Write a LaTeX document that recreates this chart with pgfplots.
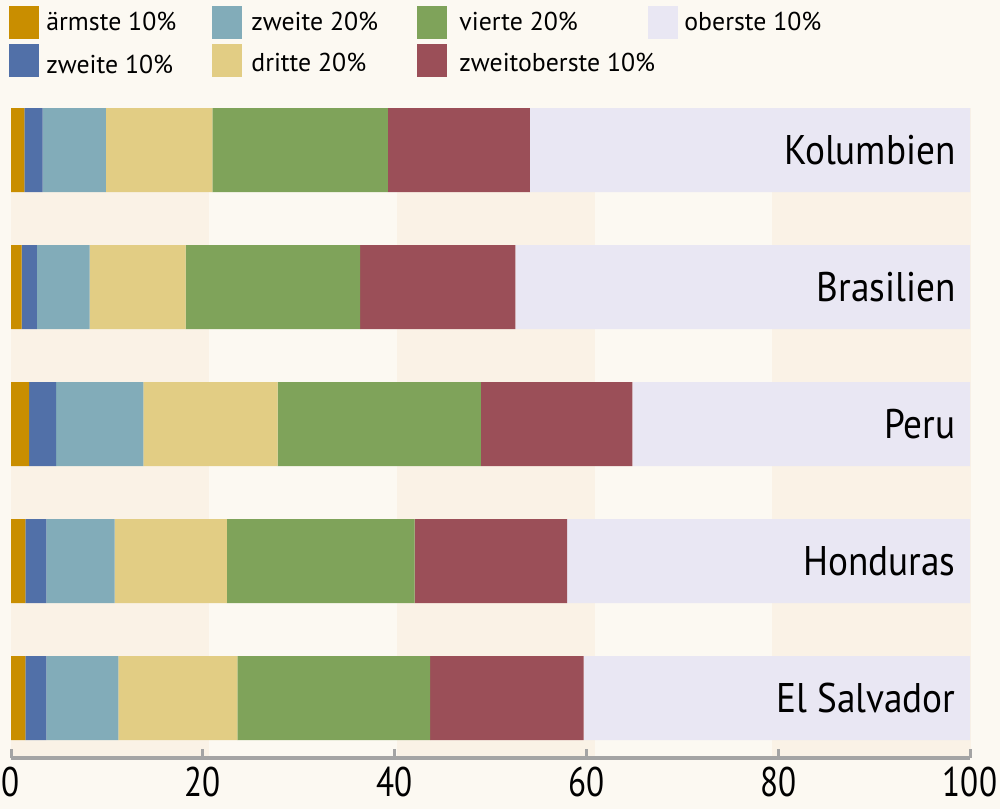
\documentclass[border=0pt]{standalone}
\usepackage{fontspec}
\setmainfont{PT Sans}
\newfontfamily\condf{PT Sans}[FakeStretch=0.8]
\newfontfamily\labff{PT Sans}[FakeStretch=0.9]
\usepackage{pgfplots}
\pgfplotsset{compat=1.18}
\definecolor{pagebg}{HTML}{FCF9F2}
\definecolor{stripe}{HTML}{FAF2E6}
\definecolor{axisgray}{HTML}{A4A4A4}
\definecolor{cA}{HTML}{C98E00}
\definecolor{cB}{HTML}{5170A8}
\definecolor{cC}{HTML}{82ACB9}
\definecolor{cD}{HTML}{E2CD84}
\definecolor{cE}{HTML}{7FA35A}
\definecolor{cF}{HTML}{9B4F58}
\definecolor{cG}{HTML}{E9E7F3}
\newcommand{\bigf}{\condf\fontsize{20.7}{24}\selectfont}
\newcommand{\labf}{\labff\fontsize{20.7}{24}\selectfont}
\newcommand{\legf}{\fontsize{12.9}{15}\selectfont}
\begin{document}
\begin{tikzpicture}
\fill[pagebg] (0pt,0pt) rectangle (500pt,-404.5pt);
\useasboundingbox (0pt,0pt) rectangle (500pt,-404.5pt);
% background stripes
\fill[stripe] (5.5pt,-54pt) rectangle (104.5pt,-379pt);
\fill[stripe] (198.5pt,-54pt) rectangle (297.5pt,-379pt);
\fill[stripe] (386pt,-54pt) rectangle (485.5pt,-379pt);
% legend
\fill[cA] (4.5pt,-3pt) rectangle (19.5pt,-19.5pt);
\fill[cB] (4.5pt,-22pt) rectangle (19.5pt,-38.5pt);
\fill[cC] (106pt,-3pt) rectangle (121pt,-19.5pt);
\fill[cD] (106pt,-22pt) rectangle (121pt,-38.5pt);
\fill[cE] (208.5pt,-3pt) rectangle (223.5pt,-19.5pt);
\fill[cF] (208.5pt,-22pt) rectangle (223.5pt,-38.5pt);
\fill[cG] (324pt,-3pt) rectangle (339pt,-19.5pt);
\node[anchor=base west, inner sep=0, font=\legf] at (23pt,-15pt) {ärmste 10\%};
\node[anchor=base west, inner sep=0, font=\legf] at (23pt,-36.5pt) {zweite 10\%};
\node[anchor=base west, inner sep=0, font=\legf] at (125.5pt,-15pt) {zweite 20\%};
\node[anchor=base west, inner sep=0, font=\legf] at (125.5pt,-35.5pt) {dritte 20\%};
\node[anchor=base west, inner sep=0, font=\legf] at (229.5pt,-15pt) {vierte 20\%};
\node[anchor=base west, inner sep=0, font=\legf] at (229.5pt,-35.5pt) {zweitoberste 10\%};
\node[anchor=base west, inner sep=0, font=\legf] at (342pt,-15pt) {oberste 10\%};
\begin{axis}[
  at={(5.5pt,-379pt)}, anchor=south west,
  scale only axis, width=479.5pt, height=325pt,
  xmin=0, xmax=100, ymin=-0.438, ymax=4.3066,
  xbar stacked, bar width=42pt,
  axis x line=bottom, axis y line=none,
  axis line style={-, line width=2pt, color=axisgray},
  xtick={0,20,40,60,80,100},
  ytick=\empty,
  tick align=inside,
  major tick length=4.5pt,
  tick style={line width=1.5pt, color=axisgray},
  /pgf/number format/assume math mode=true,
  xticklabel style={font=\bigf, inner sep=0pt, yshift=-4.5pt, anchor=north},
  clip=false,
]
\addplot[fill=cA, draw=none] coordinates {(1.4,4) (1.1,3) (1.9,2) (1.5,1) (1.5,0)};
\addplot[fill=cB, draw=none] coordinates {(1.9,4) (1.6,3) (2.8,2) (2.2,1) (2.2,0)};
\addplot[fill=cC, draw=none] coordinates {(6.6,4) (5.5,3) (9.1,2) (7.1,1) (7.5,0)};
\addplot[fill=cD, draw=none] coordinates {(11.1,4) (10.0,3) (14.0,2) (11.7,1) (12.4,0)};
\addplot[fill=cE, draw=none] coordinates {(18.3,4) (18.2,3) (21.2,2) (19.6,1) (20.1,0)};
\addplot[fill=cF, draw=none] coordinates {(14.8,4) (16.2,3) (15.8,2) (15.9,1) (16.0,0)};
\addplot[fill=cG, draw=none] coordinates {(45.9,4) (47.4,3) (35.2,2) (42.0,1) (40.3,0)};
\end{axis}
\node[anchor=east, inner sep=0, font=\labf] at (478pt,-75pt) {Kolumbien};
\node[anchor=east, inner sep=0, font=\labf] at (478pt,-143.5pt) {Brasilien};
\node[anchor=east, inner sep=0, font=\labf] at (478pt,-212pt) {Peru};
\node[anchor=east, inner sep=0, font=\labf] at (478pt,-280.5pt) {Honduras};
\node[anchor=east, inner sep=0, font=\labf] at (478pt,-349pt) {El Salvador};
\end{tikzpicture}
\end{document}
